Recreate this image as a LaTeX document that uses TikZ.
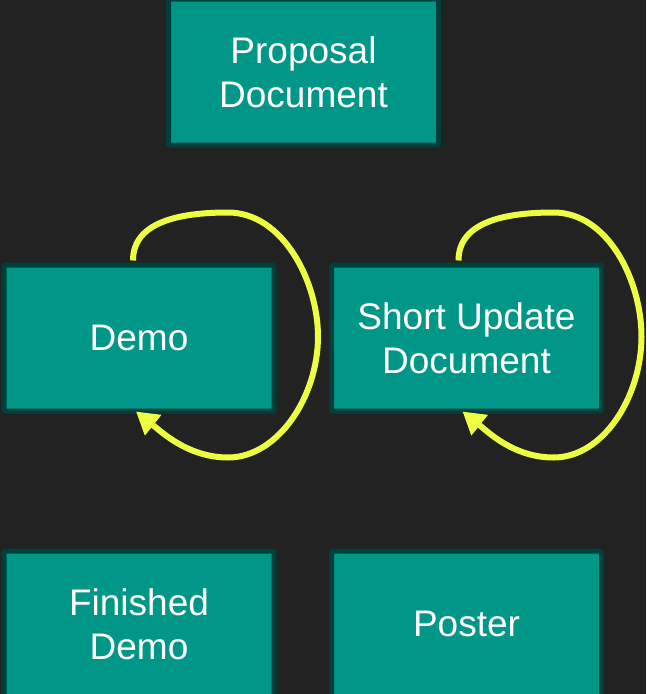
\documentclass[tikz,border=0pt]{standalone}
\usepackage{fontspec}
\setmainfont{Liberation Sans}
\usetikzlibrary{arrows.meta}
\definecolor{bgc}{HTML}{222222}
\definecolor{boxfill}{HTML}{009688}
\definecolor{boxline}{HTML}{00403A}
\definecolor{loopc}{HTML}{EEFF41}
\begin{document}
\begin{tikzpicture}[x=1pt,y=-1pt,
  stage/.style={draw=boxline, fill=boxfill, line width=5pt, rounded corners=1.5pt,
    minimum width=270pt, minimum height=146pt, inner sep=0pt, text=white,
    align=center, font=\fontsize{37}{44}\selectfont},
  loop/.style={draw=loopc, line width=6pt, -{Triangle[length=22pt,width=25pt]}}]
\fill[bgc] (0,0) rectangle (646,694);
\useasboundingbox (0,0) rectangle (646,694);
\node[stage] (prop) at (303.5,72) {Proposal\\Document};
\node[stage] (demo) at (139,338) {Demo};
\node[stage] (upd) at (466.5,338) {Short Update\\Document};
\node[stage] (fin) at (139,624) {Finished\\Demo};
\node[stage] (post) at (466.5,624) {Poster};
\draw[loop] ([xshift=-6pt,yshift=2pt]demo.north) .. controls +(0,-38) and +(-50,0) .. ++(95,-48)
  .. controls +(55,0) and +(0,-55) .. ++(90,124)
  .. controls +(0,60) and +(50,0) .. ++(-90,121)
  .. controls +(-40,0) and +(25,20) .. ([xshift=-3pt,yshift=2pt]demo.south);
\draw[loop] ([xshift=-8pt,yshift=2pt]upd.north) .. controls +(0,-38) and +(-50,0) .. ++(95,-48)
  .. controls +(55,0) and +(0,-55) .. ++(88,124)
  .. controls +(0,60) and +(50,0) .. ++(-88,121)
  .. controls +(-40,0) and +(25,20) .. ([xshift=-4pt,yshift=2pt]upd.south);
\end{tikzpicture}
\end{document}
